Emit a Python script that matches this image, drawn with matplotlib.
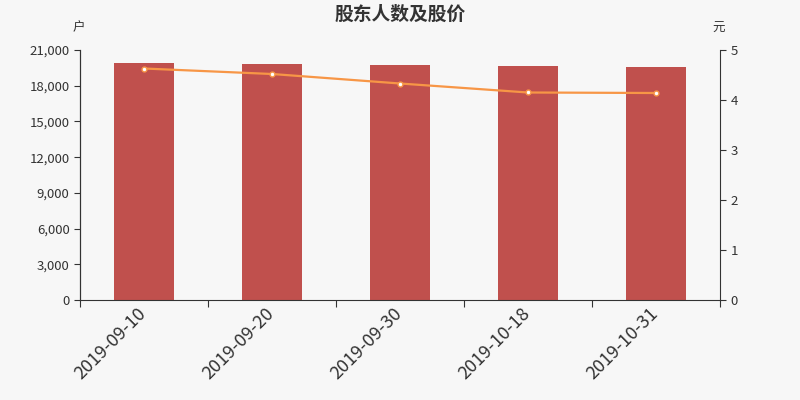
import matplotlib
matplotlib.use("Agg")
import matplotlib.pyplot as plt
from matplotlib.ticker import FuncFormatter, MultipleLocator
from matplotlib.transforms import ScaledTranslation

plt.rcParams['font.family'] = ['Noto Sans CJK SC', 'DejaVu Sans']

dates = ['2019-09-10', '2019-09-20', '2019-09-30', '2019-10-18', '2019-10-31']
holders = [19930, 19850, 19765, 19680, 19600]
price = [4.63, 4.52, 4.33, 4.15, 4.14]

bg = '#f7f7f7'
axis_col = '#333333'

fig = plt.figure(figsize=(8, 4), dpi=100, facecolor=bg)
ax = fig.add_axes([0.1, 0.25, 0.8, 0.625])
ax.set_facecolor(bg)

x = list(range(len(dates)))
ax.bar(x, holders, width=0.47, color='#c0504d', zorder=2)
ax.set_xlim(-0.5, len(dates) - 0.5)
ax.set_ylim(0, 21000)
ax.yaxis.set_major_locator(MultipleLocator(3000))
ax.yaxis.set_major_formatter(FuncFormatter(lambda v, p: f'{int(v):,}'))

ax.set_xticks([i - 0.5 for i in range(len(dates) + 1)])
ax.set_xticklabels([])
ax.set_xticks(x, minor=True)
ax.set_xticklabels(dates, minor=True, rotation=45, ha='right', rotation_mode='anchor',
                   fontsize=13, color=axis_col)
ax.tick_params(axis='x', which='minor', length=0, pad=3)
ax.tick_params(axis='x', which='major', length=5, color=axis_col)
ax.tick_params(axis='y', labelsize=9.5, colors=axis_col, length=4)
shift = ScaledTranslation(-5 / 72, 0, fig.dpi_scale_trans)
for lbl in ax.get_xticklabels(minor=True):
    lbl.set_transform(lbl.get_transform() + shift)

ax2 = ax.twinx()
ax2.plot(x, price, color='#f79646', lw=1.6, marker='o', markersize=3.5,
         markerfacecolor='white', markeredgecolor='#f79646', markeredgewidth=1, zorder=3)
ax2.set_ylim(0, 5)
ax2.yaxis.set_major_locator(MultipleLocator(1))
ax2.tick_params(axis='y', labelsize=9.5, colors=axis_col, length=4)

for a in (ax, ax2):
    a.spines['top'].set_visible(False)
    for s in ('left', 'right', 'bottom'):
        a.spines[s].set_color(axis_col)
        a.spines[s].set_linewidth(0.8)
ax.spines['right'].set_visible(False)
ax2.spines['bottom'].set_visible(False)

fig.text(0.5, 0.965, '股东人数及股价', ha='center', va='center', fontsize=13.5,
         fontweight='bold', color=axis_col)
fig.text(0.098, 0.93, '户', ha='center', va='center', fontsize=9, color=axis_col)
fig.text(0.898, 0.93, '元', ha='center', va='center', fontsize=9, color=axis_col)

fig.savefig('out.png', dpi=100, facecolor=bg)
